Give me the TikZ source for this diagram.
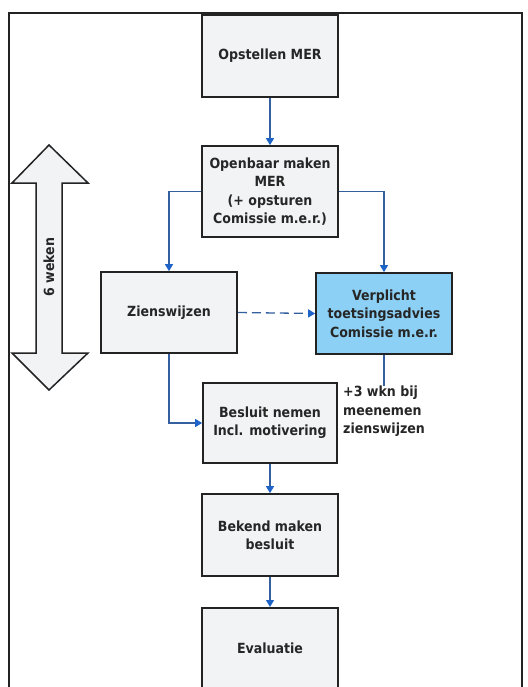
\documentclass[tikz,border=0pt]{standalone}
\usepackage{fontspec}
\setmainfont{DejaVu Sans Condensed}
\usetikzlibrary{arrows.meta}
\definecolor{boxfill}{RGB}{241,243,245}
\definecolor{bluefill}{RGB}{140,208,245}
\definecolor{linecol}{RGB}{52,96,160}
\definecolor{arrowblue}{RGB}{30,100,200}
\definecolor{edgecol}{RGB}{35,35,35}
\tikzset{
  procbox/.style={draw=edgecol, line width=1.7pt, fill=boxfill, minimum width=136pt, minimum height=82pt, inner sep=1pt, align=center, font=\fontsize{14}{18.3}\selectfont\bfseries, text=black!85},
  conn/.style={draw=linecol, line width=1.3pt, -{Triangle[width=8pt,length=7pt,color=arrowblue]}},
  plainconn/.style={draw=linecol, line width=1.3pt},
  lbl/.style={font=\fontsize{14}{18.3}\selectfont\bfseries, text=black!85, align=left, inner sep=0pt}
}
\begin{document}
\begin{tikzpicture}[x=1pt,y=-1pt]
\useasboundingbox (0,0) rectangle (527,687);
\clip (0,0) rectangle (527,687);
\fill[white] (0,0) rectangle (527,687);
% outer frame
\draw[edgecol, line width=1.5pt] (9,700) -- (9,13) -- (522,13) -- (522,700);
% double arrow
\draw[edgecol, line width=1.5pt, fill=boxfill]
  (49,145) -- (88,183) -- (62,183) -- (62,353) -- (88,353) -- (49,390)
  -- (12,353) -- (36,353) -- (36,183) -- (12,183) -- cycle;
\node[lbl, rotate=90] (weken) at (49,267) {6 weken};
% boxes
\node[procbox] (op) at (270,56) {Opstellen MER};
\node[procbox, minimum height=91pt] (ob) at (270,191.5) {Openbaar maken\\MER\\(+ opsturen\\Comissie m.e.r.)};
\node[procbox, minimum height=81pt] (zw) at (169,312.5) {Zienswijzen};
\node[procbox, minimum height=81pt, fill=bluefill] (vp) at (384,313.5) {Verplicht\\toetsingsadvies\\Comissie m.e.r.};
\node[procbox, minimum width=134pt, minimum height=80pt] (bs) at (270,423) {Besluit nemen\\Incl. motivering};
\node[procbox, minimum height=82pt] (bk) at (270,535) {Bekend maken\\besluit};
\node[procbox, minimum height=100pt, anchor=north] (ev) at (270,607) {\raisebox{20pt}{Evaluatie}};
% label
\node[lbl, anchor=north west] (wkn) at (343,386) {+3 wkn bij\\meenemen\\zienswijzen};
% connectors
\draw[conn] (op.south) -- (ob.north);
\draw[conn] (ob.west) -| (zw.north);
\draw[conn] (ob.east) -| (vp.north);
\draw[conn, dashed, dash pattern=on 9pt off 5pt] (zw.east) -- (vp.west);
\draw[conn] (zw.south) |- (bs.west);
\draw[plainconn] (vp.south) -- (vp.south |- wkn.north);
\draw[conn] (bs.south) -- (bk.north);
\draw[conn] (bk.south) -- (ev.north);
\end{tikzpicture}
\end{document}
